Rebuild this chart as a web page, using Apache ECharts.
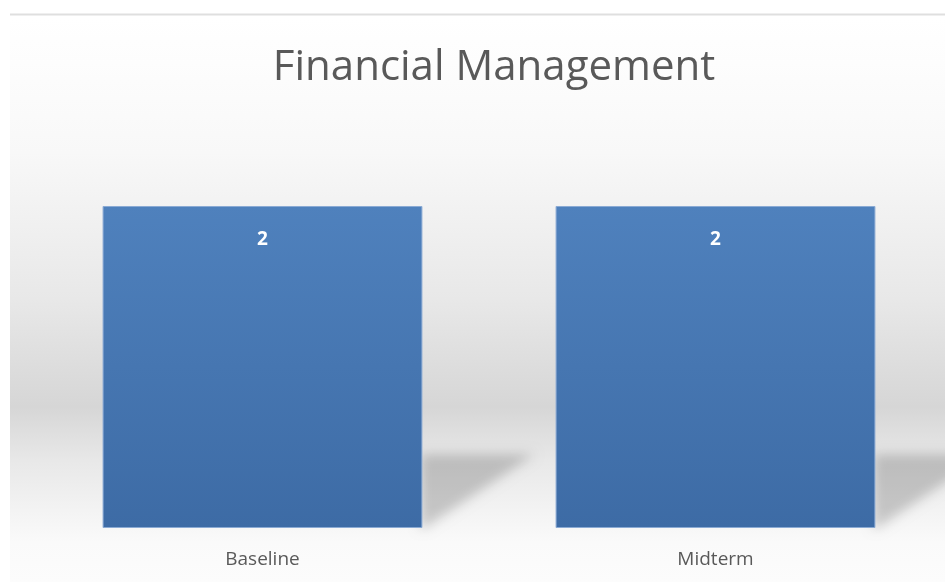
<!DOCTYPE html>
<html>
<head>
<meta charset="utf-8">
<script src="https://cdn.jsdelivr.net/npm/echarts@6/dist/echarts.min.js"></script>
<style>
html,body{margin:0;padding:0;background:#fff;}
#chart{width:945px;height:582px;}
</style>
</head>
<body>
<div id="chart"></div>
<script>
var titleText = 'Financial Management';
var categories = ['Baseline', 'Midterm'];
var values = [2, 2];

var chart = echarts.init(document.getElementById('chart'), null, {renderer: 'canvas'});

var OFF = 3000;
function shadowItem(params, api) {
  var idx = api.value(0);
  var v = api.value(1);
  var top = api.coord([idx, v]);
  var base = api.coord([idx, 0]);
  var band = api.size([1, 0])[0];
  var bw = band * 0.706;
  var xr = top[0] + bw / 2;
  var h = base[1] - top[1];
  var yTop = base[1] - h * 0.235;
  var len = bw * 0.35;
  var pts = [[xr - 2, yTop + 2], [xr + len, yTop + 2], [xr + 2, base[1]], [xr - 2, base[1]]];
  var shifted = pts.map(function (p) { return [p[0] - OFF, p[1]]; });
  return {
    type: 'group',
    children: [
      {
        type: 'polygon',
        shape: {points: shifted},
        style: {
          fill: '#000',
          shadowBlur: 12,
          shadowOffsetX: OFF,
          shadowColor: 'rgba(0,0,0,0.19)'
        }
      }
    ]
  };
}

var option = {
  animation: false,
  backgroundColor: '#ffffff',
  graphic: [
    {
      type: 'rect', z: -10, silent: true,
      shape: {x: 10, y: 17, width: 935, height: 565},
      style: {
        fill: new echarts.graphic.LinearGradient(0, 0, 0, 1, [
          {offset: 0, color: '#ffffff'},
          {offset: 0.08, color: '#fdfdfd'},
          {offset: 0.24, color: '#f8f8f8'},
          {offset: 0.50, color: '#e8e8e8'},
          {offset: 0.69, color: '#d6d6d6'},
          {offset: 0.785, color: '#e8e8e8'},
          {offset: 0.89, color: '#f5f5f5'},
          {offset: 0.93, color: '#fafafa'},
          {offset: 1, color: '#fcfcfc'}
        ])
      }
    },
    {
      type: 'line', z: -5, silent: true,
      shape: {x1: 10, y1: 14.5, x2: 945, y2: 14.5},
      style: {stroke: '#dfdfdf', lineWidth: 2}
    }
  ],
  title: {
    text: titleText,
    left: 489,
    textAlign: 'center',
    top: 42,
    textStyle: {
      fontFamily: 'Open Sans',
      fontSize: 42,
      fontWeight: 'normal',
      color: '#595959'
    }
  },
  grid: {left: 36, right: 3, top: 125.5, bottom: 54},
  xAxis: {
    type: 'category',
    data: categories,
    axisLine: {show: false},
    axisTick: {show: false},
    axisLabel: {
      margin: 22,
      fontFamily: 'Open Sans',
      fontSize: 19,
      color: '#595959'
    }
  },
  yAxis: {
    type: 'value',
    min: 0,
    max: 2.5,
    interval: 0.5,
    show: false,
    splitLine: {show: false}
  },
  series: [
    {
      type: 'custom',
      renderItem: shadowItem,
      data: categories.map(function (c, i) { return [i, values[i]]; }),
      z: 1,
      silent: true
    },
    {
      type: 'bar',
      data: values,
      barWidth: '70.6%',
      z: 2,
      itemStyle: {
        color: new echarts.graphic.LinearGradient(0, 0, 0, 1, [
          {offset: 0, color: '#4f81bd'},
          {offset: 1, color: '#3d6ba5'}
        ]),
        borderColor: '#8aaad4',
        borderWidth: 1
      },
      label: {
        show: true,
        position: 'insideTop',
        distance: 24,
        fontFamily: 'Open Sans',
        fontSize: 19,
        fontWeight: 'bold',
        color: '#ffffff'
      }
    }
  ]
};
chart.setOption(option);
</script>
</body>
</html>
